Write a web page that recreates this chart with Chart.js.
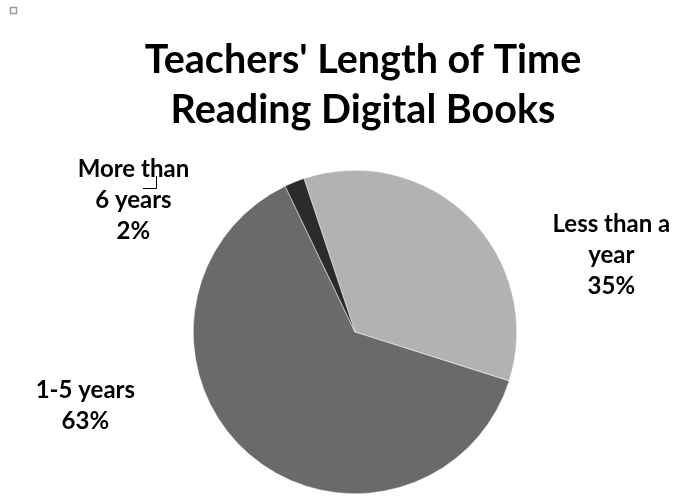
<!DOCTYPE html>
<html><head><meta charset="utf-8">
<script src="https://cdn.jsdelivr.net/npm/chart.js@4/dist/chart.umd.min.js"></script>
<style>html,body{margin:0;padding:0;background:#fff}#wrap{width:674px;height:502px;position:relative}</style>
</head><body><div id="wrap"><canvas id="c" width="674" height="502"></canvas></div>
<script>
const titleLines = ["Teachers' Length of Time", "Reading Digital Books"];
const categories = ["Less than a year", "1-5 years", "More than 6 years"];
const values = [35, 63, 2];
const labelLines = [["Less than a", "year", "35%"], ["1-5 years", "63%"], ["More than", "6 years", "2%"]];
const colors = ["#b2b2b2", "#6a6a6a", "#2b2b2b"];
// label centre offsets in units of pie radius
const labelOffsets = [[1.585, -0.475], [-1.667, 0.457], [-1.37, -0.815]];

const FONT = "Lato, 'Open Sans', sans-serif";

const deco = {
  id: 'deco',
  afterDraw(chart) {
    const ctx = chart.ctx;
    ctx.save();
    ctx.fillStyle = '#000';
    ctx.textAlign = 'center';
    ctx.textBaseline = 'middle';
    ctx.font = "bold 39.5px " + FONT;
    titleLines.forEach((t, i) => ctx.fillText(t, 363, 60 + i * 50));
    const arc = chart.getDatasetMeta(0).data[0];
    const cx = arc.x, cy = arc.y, r = arc.outerRadius;
    ctx.font = "bold 24px " + FONT;
    labelLines.forEach((lines, k) => {
      const lx = cx + labelOffsets[k][0] * r;
      const ly = cy + labelOffsets[k][1] * r;
      const n = lines.length;
      lines.forEach((s, j) => ctx.fillText(s, lx, ly + (j - (n - 1) / 2) * 31));
    });
    // small frame marker top-left
    ctx.strokeStyle = '#9a9a9a';
    ctx.lineWidth = 1.5;
    ctx.strokeRect(10.5, 7.5, 6, 6);
    ctx.strokeStyle = '#000';
    ctx.lineWidth = 1;
    ctx.beginPath();
    ctx.moveTo(156.5, 176); ctx.lineTo(156.5, 188.5); ctx.lineTo(143, 188.5);
    ctx.stroke();
    ctx.restore();
  }
};

new Chart(document.getElementById('c'), {
  type: 'pie',
  data: {
    labels: categories,
    datasets: [{ data: values, backgroundColor: colors, borderWidth: 0.5, borderColor: '#ffffff' }]
  },
  options: {
    responsive: false,
    animation: false,
    rotation: -18.4,
    layout: { padding: { top: 170, bottom: 8, left: 36, right: 0 } },
    plugins: { legend: { display: false }, tooltip: { enabled: false }, title: { display: false } }
  },
  plugins: [deco]
});
</script></body></html>
